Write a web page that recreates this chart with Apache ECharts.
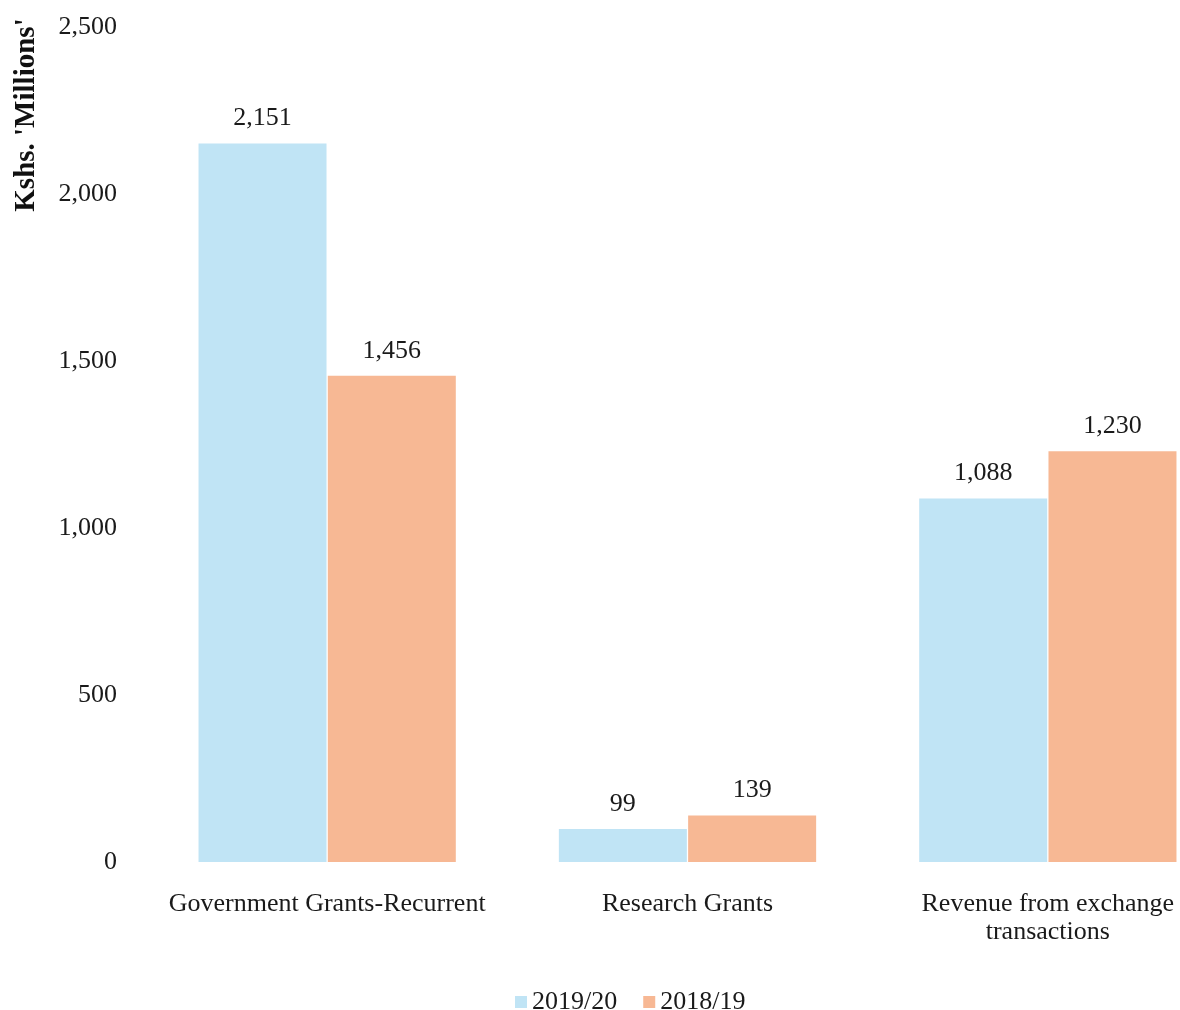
<!DOCTYPE html>
<html>
<head>
<meta charset="utf-8">
<script src="https://cdn.jsdelivr.net/npm/echarts@6/dist/echarts.min.js"></script>
<style>html,body{margin:0;padding:0;background:#fff;overflow:hidden}#c{width:1230px;height:1010px}</style>
</head>
<body>
<div id="c"></div>
<script>
var categories = ['Government Grants-Recurrent', 'Research Grants', 'Revenue from exchange\ntransactions'];
var series2019 = [2151, 99, 1088];
var series2018 = [1456, 139, 1230];
var seriesNames = ['2019/20', '2018/19'];
var yTicks = [0, 500, 1000, 1500, 2000, 2500];

var FONT = '"Liberation Serif", "Times New Roman", serif';
var chart = echarts.init(document.getElementById('c'));
var labelStyle = {
  show: true, position: 'top', distance: 12, color: '#1a1a1a',
  fontFamily: FONT, fontSize: 26,
  formatter: function (p) { return p.value.toLocaleString('en-US'); }
};
chart.setOption({
  animation: false,
  textStyle: { fontFamily: FONT },
  grid: { left: 147, right: 2, top: 27, bottom: 148, containLabel: false },
  legend: {
    data: seriesNames, top: 984, left: 510,
    icon: 'rect', itemWidth: 12, itemHeight: 12, itemGap: 26,
    textStyle: { fontFamily: FONT, fontSize: 26, color: '#1a1a1a' }
  },
  xAxis: {
    type: 'category', data: categories,
    axisLine: { show: false }, axisTick: { show: false },
    axisLabel: { color: '#1a1a1a', fontFamily: FONT, fontSize: 26, margin: 28, lineHeight: 28, interval: 0 }
  },
  yAxis: {
    type: 'value', min: yTicks[0], max: yTicks[yTicks.length - 1], interval: 500,
    splitLine: { show: false }, axisLine: { show: false }, axisTick: { show: false },
    axisLabel: { color: '#1a1a1a', fontFamily: FONT, fontSize: 26, margin: 30,
      formatter: function (v) { return v.toLocaleString('en-US'); } }
  },
  graphic: [{
    type: 'text', x: 27, y: 115, rotation: Math.PI / 2,
    style: { text: "Kshs. 'Millions'", fontFamily: FONT, fontSize: 29, fontWeight: 'bold',
      fill: '#111', align: 'center', verticalAlign: 'middle' }
  }],
  series: [
    { name: seriesNames[0], type: 'bar', data: series2019, barWidth: 128, barGap: '1%',
      itemStyle: { color: '#c0e4f5' }, label: labelStyle },
    { name: seriesNames[1], type: 'bar', data: series2018, barWidth: 128, barGap: '1%',
      itemStyle: { color: '#f7b894' }, label: labelStyle }
  ]
});
</script>
</body>
</html>
